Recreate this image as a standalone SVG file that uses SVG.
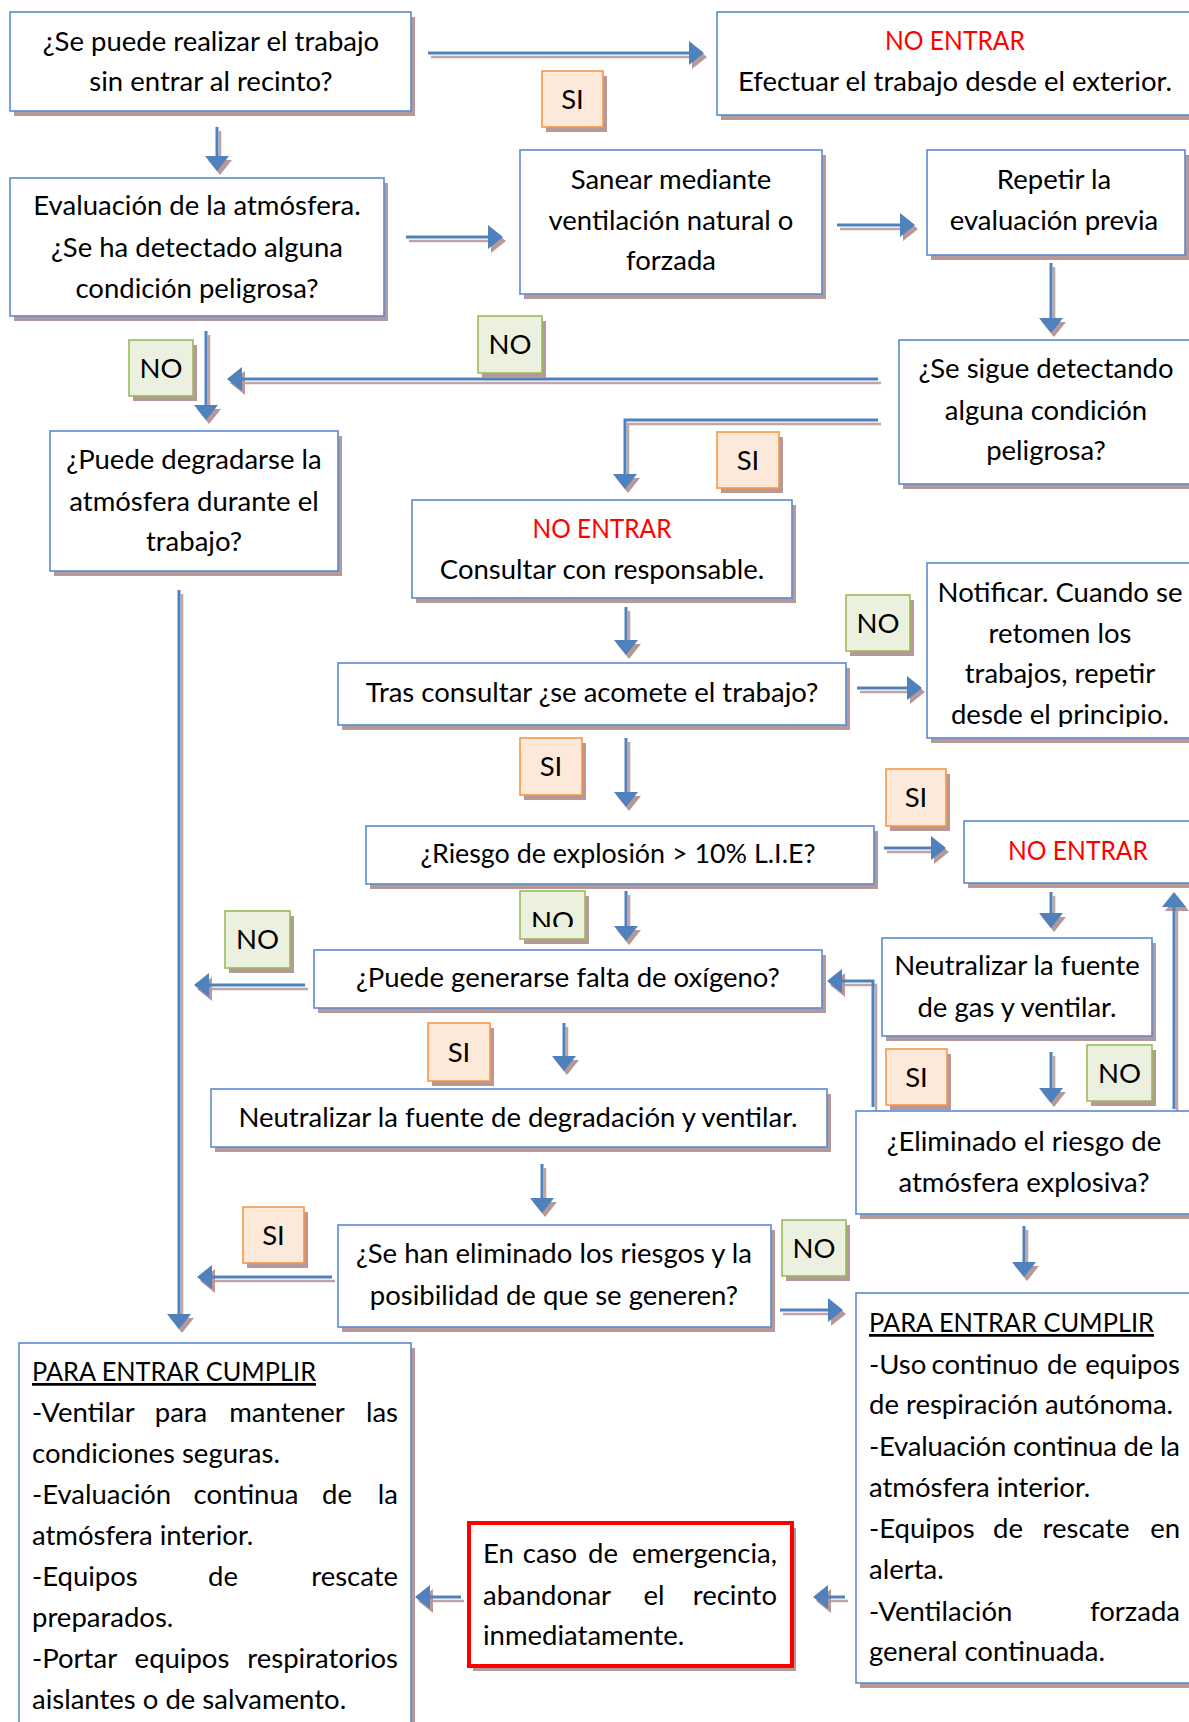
<svg xmlns="http://www.w3.org/2000/svg" width="1189" height="1722" viewBox="0 0 1189 1722">
  <style>
    .bx { fill: #ffffff; stroke: #5b8bcf; stroke-width: 1.6; }
    .sh { fill: #b79898; }
    .red { fill: #ffffff; stroke: #ff0000; stroke-width: 4; }
    .si { fill: #fde9d9; stroke: #f79646; stroke-width: 1.6; }
    .no { fill: #ebf1de; stroke: #9bbb59; stroke-width: 1.6; }
    text { font-family: Lato, "Liberation Sans", sans-serif; font-size: 27.5px; fill: #000000; }
    .c { text-anchor: middle; }
    .e { text-anchor: end; }
    .warn { fill: #ff0000; }
    .u { text-decoration: underline; }
    .ln { fill: none; stroke: #4f81bd; stroke-width: 3; marker-end: url(#head); }
    .lns { fill: none; stroke: #c2a4a4; stroke-width: 2.6; marker-end: url(#headsh); }
  </style>
  <defs>
    <marker id="head" markerUnits="userSpaceOnUse" viewBox="0 0 15 24" markerWidth="15" markerHeight="24" refX="13" refY="12" orient="auto">
      <path d="M0,0 L15,12 L0,24 z" fill="#4f81bd"/>
    </marker>
    <marker id="headsh" markerUnits="userSpaceOnUse" viewBox="0 0 15 24" markerWidth="15" markerHeight="24" refX="13" refY="12" orient="auto">
      <path d="M0,0 L15,12 L0,24 z" fill="#b79898"/>
    </marker>
    <clipPath id="clipNotif"><rect x="927" y="563" width="270" height="164"/></clipPath>
    <clipPath id="clipNo8"><rect x="520" y="891" width="65" height="36"/></clipPath>
  </defs>
  <rect width="1189" height="1722" fill="#ffffff"/>

  <!-- connectors: shadow copy first, blue line on top -->
  <g id="connectors">
    <g transform="translate(3,4)">
      <path class="lns" d="M428,53 H702"/>
      <path class="lns" d="M217,127 V169"/>
      <path class="lns" d="M406,237 H501"/>
      <path class="lns" d="M837,225 H913"/>
      <path class="lns" d="M1051,263 V331"/>
      <path class="lns" d="M878,379 H229"/>
      <path class="lns" d="M206,331 V418"/>
      <path class="lns" d="M878,420 H625 V487"/>
      <path class="lns" d="M179,590 V1327"/>
      <path class="lns" d="M626,607 V653"/>
      <path class="lns" d="M857,688 H920"/>
      <path class="lns" d="M626,738 V805"/>
      <path class="lns" d="M884,848 H944"/>
      <path class="lns" d="M1051,892 V926"/>
      <path class="lns" d="M1174,1109 V894"/>
      <path class="lns" d="M1051,1052 V1101"/>
      <path class="lns" d="M873,1107 V981 H829"/>
      <path class="lns" d="M626,891 V939"/>
      <path class="lns" d="M305,985 H196"/>
      <path class="lns" d="M564,1023 V1069"/>
      <path class="lns" d="M542,1164 V1211"/>
      <path class="lns" d="M332,1277 H199"/>
      <path class="lns" d="M780,1310 H841"/>
      <path class="lns" d="M1024,1226 V1275"/>
      <path class="lns" d="M845,1597 H815"/>
      <path class="lns" d="M461,1597 H417"/>
    </g>
    <path class="ln" d="M428,53 H702"/>
    <path class="ln" d="M217,127 V169"/>
    <path class="ln" d="M406,237 H501"/>
    <path class="ln" d="M837,225 H913"/>
    <path class="ln" d="M1051,263 V331"/>
    <path class="ln" d="M878,379 H229"/>
    <path class="ln" d="M206,331 V418"/>
    <path class="ln" d="M878,420 H625 V487"/>
    <path class="ln" d="M179,590 V1327"/>
    <path class="ln" d="M626,607 V653"/>
    <path class="ln" d="M857,688 H920"/>
    <path class="ln" d="M626,738 V805"/>
    <path class="ln" d="M884,848 H944"/>
    <path class="ln" d="M1051,892 V926"/>
    <path class="ln" d="M1174,1109 V894"/>
    <path class="ln" d="M1051,1052 V1101"/>
    <path class="ln" d="M873,1107 V981 H829"/>
    <path class="ln" d="M626,891 V939"/>
    <path class="ln" d="M305,985 H196"/>
    <path class="ln" d="M564,1023 V1069"/>
    <path class="ln" d="M542,1164 V1211"/>
    <path class="ln" d="M332,1277 H199"/>
    <path class="ln" d="M780,1310 H841"/>
    <path class="ln" d="M1024,1226 V1275"/>
    <path class="ln" d="M845,1597 H815"/>
    <path class="ln" d="M461,1597 H417"/>
  </g>

  <!-- branch labels -->
  <g id="lbl-si-1"><rect class="sh" x="546" y="76" width="61" height="56"/><rect class="si" x="542" y="71" width="61" height="56"/><text class="c" x="572.5" y="109">SI</text></g>
  <g id="lbl-no-2"><rect class="sh" x="482" y="321" width="64" height="57"/><rect class="no" x="478" y="316" width="64" height="57"/><text class="c" x="510" y="354">NO</text></g>
  <g id="lbl-no-3"><rect class="sh" x="133" y="345" width="64" height="56"/><rect class="no" x="129" y="340" width="64" height="56"/><text class="c" x="161" y="378">NO</text></g>
  <g id="lbl-si-4"><rect class="sh" x="721" y="437" width="62" height="56"/><rect class="si" x="717" y="432" width="62" height="56"/><text class="c" x="748" y="470">SI</text></g>
  <g id="lbl-no-5"><rect class="sh" x="850" y="600" width="64" height="56"/><rect class="no" x="846" y="595" width="64" height="56"/><text class="c" x="878" y="633">NO</text></g>
  <g id="lbl-si-6"><rect class="sh" x="524" y="743" width="62" height="57"/><rect class="si" x="520" y="738" width="62" height="57"/><text class="c" x="551" y="776">SI</text></g>
  <g id="lbl-si-7"><rect class="sh" x="890" y="774" width="60" height="57"/><rect class="si" x="886" y="769" width="60" height="57"/><text class="c" x="916" y="807">SI</text></g>
  <g id="lbl-no-8"><rect class="sh" x="524" y="896" width="65" height="48"/><rect class="no" x="520" y="891" width="65" height="48"/><text class="c" x="552.5" y="931" clip-path="url(#clipNo8)">NO</text></g>
  <g id="lbl-no-9"><rect class="sh" x="229" y="916" width="65" height="57"/><rect class="no" x="225" y="911" width="65" height="57"/><text class="c" x="257.5" y="949">NO</text></g>
  <g id="lbl-si-10"><rect class="sh" x="432" y="1028" width="62" height="58"/><rect class="si" x="428" y="1023" width="62" height="58"/><text class="c" x="459" y="1062">SI</text></g>
  <g id="lbl-si-11"><rect class="sh" x="890" y="1054" width="61" height="56"/><rect class="si" x="886" y="1049" width="61" height="56"/><text class="c" x="916.5" y="1087">SI</text></g>
  <g id="lbl-no-12"><rect class="sh" x="1091" y="1050" width="65" height="56"/><rect class="no" x="1087" y="1045" width="65" height="56"/><text class="c" x="1119.5" y="1083">NO</text></g>
  <g id="lbl-si-13"><rect class="sh" x="247" y="1212" width="61" height="56"/><rect class="si" x="243" y="1207" width="61" height="56"/><text class="c" x="273.5" y="1245">SI</text></g>
  <g id="lbl-no-14"><rect class="sh" x="786" y="1225" width="64" height="56"/><rect class="no" x="782" y="1220" width="64" height="56"/><text class="c" x="814" y="1258">NO</text></g>

  <!-- process and decision boxes -->
  <g id="n-trabajo-exterior">
    <rect class="sh" x="14" y="17" width="401" height="99"/><rect class="bx" x="10" y="12" width="401" height="99"/>
    <text class="c" x="211" y="51">¿Se puede realizar el trabajo</text>
    <text class="c" x="211" y="91">sin entrar al recinto?</text>
  </g>
  <g id="n-no-entrar-1">
    <rect class="sh" x="721" y="17" width="480" height="103"/><rect class="bx" x="717" y="12" width="480" height="103"/>
    <text class="c warn" x="955" y="50" textLength="140" lengthAdjust="spacingAndGlyphs">NO ENTRAR</text>
    <text class="c" x="955" y="91">Efectuar el trabajo desde el exterior.</text>
  </g>
  <g id="n-evaluacion">
    <rect class="sh" x="14" y="183" width="374" height="138"/><rect class="bx" x="10" y="178" width="374" height="138"/>
    <text class="c" x="197" y="215">Evaluación de la atmósfera.</text>
    <text class="c" x="197" y="257">¿Se ha detectado alguna</text>
    <text class="c" x="197" y="298">condición peligrosa?</text>
  </g>
  <g id="n-sanear">
    <rect class="sh" x="524" y="155" width="302" height="144"/><rect class="bx" x="520" y="150" width="302" height="144"/>
    <text class="c" x="671" y="189">Sanear mediante</text>
    <text class="c" x="671" y="230">ventilación natural o</text>
    <text class="c" x="671" y="270">forzada</text>
  </g>
  <g id="n-repetir">
    <rect class="sh" x="931" y="155" width="258" height="105"/><rect class="bx" x="927" y="150" width="258" height="105"/>
    <text class="c" x="1054" y="189">Repetir la</text>
    <text class="c" x="1054" y="230">evaluación previa</text>
  </g>
  <g id="n-sigue-detectando">
    <rect class="sh" x="903" y="345" width="300" height="144"/><rect class="bx" x="899" y="340" width="300" height="144"/>
    <text class="c" x="1046" y="378">¿Se sigue detectando</text>
    <text class="c" x="1046" y="420">alguna condición</text>
    <text class="c" x="1046" y="460">peligrosa?</text>
  </g>
  <g id="n-degradarse">
    <rect class="sh" x="54" y="436" width="288" height="140"/><rect class="bx" x="50" y="431" width="288" height="140"/>
    <text class="c" x="194" y="469">¿Puede degradarse la</text>
    <text class="c" x="194" y="511">atmósfera durante el</text>
    <text class="c" x="194" y="551">trabajo?</text>
  </g>
  <g id="n-consultar">
    <rect class="sh" x="416" y="505" width="380" height="98"/><rect class="bx" x="412" y="500" width="380" height="98"/>
    <text class="c warn" x="602" y="538" textLength="139" lengthAdjust="spacingAndGlyphs">NO ENTRAR</text>
    <text class="c" x="602" y="579">Consultar con responsable.</text>
  </g>
  <g id="n-tras-consultar">
    <rect class="sh" x="342" y="668" width="508" height="62"/><rect class="bx" x="338" y="663" width="508" height="62"/>
    <text class="c" x="592" y="702">Tras consultar ¿se acomete el trabajo?</text>
  </g>
  <g id="n-notificar">
    <rect class="sh" x="931" y="568" width="270" height="175"/><rect class="bx" x="927" y="563" width="270" height="175"/>
    <g clip-path="url(#clipNotif)">
      <text class="c" x="1060" y="602">Notificar. Cuando se</text>
      <text class="c" x="1060" y="643">retomen los</text>
      <text class="c" x="1060" y="683">trabajos, repetir</text>
      <text class="c" x="1060" y="724">desde el principio.</text>
    </g>
  </g>
  <g id="n-explosion">
    <rect class="sh" x="370" y="831" width="508" height="58"/><rect class="bx" x="366" y="826" width="508" height="58"/>
    <text class="c" x="618" y="863" textLength="395" lengthAdjust="spacingAndGlyphs">¿Riesgo de explosión &gt; 10% L.I.E?</text>
  </g>
  <g id="n-no-entrar-2">
    <rect class="sh" x="968" y="826" width="230" height="62"/><rect class="bx" x="964" y="821" width="230" height="62"/>
    <text class="c warn" x="1078" y="860" textLength="140" lengthAdjust="spacingAndGlyphs">NO ENTRAR</text>
  </g>
  <g id="n-neutralizar-gas">
    <rect class="sh" x="886" y="943" width="270" height="98"/><rect class="bx" x="882" y="938" width="270" height="98"/>
    <text class="c" x="1017" y="975">Neutralizar la fuente</text>
    <text class="c" x="1017" y="1017">de gas y ventilar.</text>
  </g>
  <g id="n-eliminado-explosiva">
    <rect class="sh" x="860" y="1116" width="340" height="103"/><rect class="bx" x="856" y="1111" width="340" height="103"/>
    <text class="c" x="1024" y="1151">¿Eliminado el riesgo de</text>
    <text class="c" x="1024" y="1192">atmósfera explosiva?</text>
  </g>
  <g id="n-oxigeno">
    <rect class="sh" x="318" y="955" width="508" height="58"/><rect class="bx" x="314" y="950" width="508" height="58"/>
    <text class="c" x="568" y="987">¿Puede generarse falta de oxígeno?</text>
  </g>
  <g id="n-neutralizar-degradacion">
    <rect class="sh" x="215" y="1094" width="616" height="58"/><rect class="bx" x="211" y="1089" width="616" height="58"/>
    <text class="c" x="518" y="1127">Neutralizar la fuente de degradación y ventilar.</text>
  </g>
  <g id="n-eliminados-riesgos">
    <rect class="sh" x="342" y="1230" width="433" height="102"/><rect class="bx" x="338" y="1225" width="433" height="102"/>
    <text class="c" x="554" y="1263">¿Se han eliminado los riesgos y la</text>
    <text class="c" x="554" y="1305">posibilidad de que se generen?</text>
  </g>

  <!-- entry requirements, breathing apparatus -->
  <g id="n-cumplir-autonomo">
    <rect class="sh" x="860" y="1298" width="340" height="390"/><rect class="bx" x="856" y="1293" width="340" height="390"/>
    <text class="u" x="869" y="1332" textLength="285" lengthAdjust="spacingAndGlyphs">PARA ENTRAR CUMPLIR</text>
    <text x="869" y="1374">-Uso</text><text class="c" x="985" y="1374">continuo</text><text class="c" x="1062" y="1374">de</text><text class="e" x="1180" y="1374">equipos</text>
    <text x="869" y="1414">de respiración autónoma.</text>
    <text x="869" y="1456" textLength="311" lengthAdjust="spacing">-Evaluación continua de la</text>
    <text x="869" y="1497">atmósfera interior.</text>
    <text x="869" y="1538">-Equipos</text><text class="c" x="1008" y="1538">de</text><text class="c" x="1086" y="1538">rescate</text><text class="e" x="1180" y="1538">en</text>
    <text x="869" y="1579">alerta.</text>
    <text x="869" y="1621">-Ventilación</text><text class="e" x="1180" y="1621">forzada</text>
    <text x="869" y="1661">general continuada.</text>
  </g>

  <!-- entry requirements, ventilation -->
  <g id="n-cumplir-ventilar">
    <rect class="sh" x="23" y="1348" width="392" height="400"/><rect class="bx" x="19" y="1343" width="392" height="400"/>
    <text class="u" x="32" y="1381" textLength="284" lengthAdjust="spacingAndGlyphs">PARA ENTRAR CUMPLIR</text>
    <text x="32" y="1422">-Ventilar</text><text class="c" x="181" y="1422">para</text><text class="c" x="287" y="1422">mantener</text><text class="e" x="398" y="1422">las</text>
    <text x="32" y="1463">condiciones seguras.</text>
    <text x="32" y="1504">-Evaluación</text><text class="c" x="246" y="1504">continua</text><text class="c" x="337" y="1504">de</text><text class="e" x="398" y="1504">la</text>
    <text x="32" y="1545">atmósfera interior.</text>
    <text x="32" y="1586">-Equipos</text><text class="c" x="223" y="1586">de</text><text class="e" x="398" y="1586">rescate</text>
    <text x="32" y="1627">preparados.</text>
    <text x="32" y="1668">-Portar</text><text class="c" x="182" y="1668">equipos</text><text class="e" x="398" y="1668">respiratorios</text>
    <text x="32" y="1709">aislantes o de salvamento.</text>
  </g>

  <!-- emergency note -->
  <g id="n-emergencia">
    <rect class="sh" x="473" y="1528" width="323" height="143"/><rect class="red" x="469" y="1523" width="323" height="143"/>
    <text x="483" y="1563">En</text><text class="c" x="550" y="1563">caso</text><text class="c" x="603" y="1563">de</text><text class="e" x="777" y="1563">emergencia,</text>
    <text x="483" y="1605">abandonar</text><text class="c" x="654" y="1605">el</text><text class="e" x="777" y="1605">recinto</text>
    <text x="483" y="1645">inmediatamente.</text>
  </g>
</svg>
